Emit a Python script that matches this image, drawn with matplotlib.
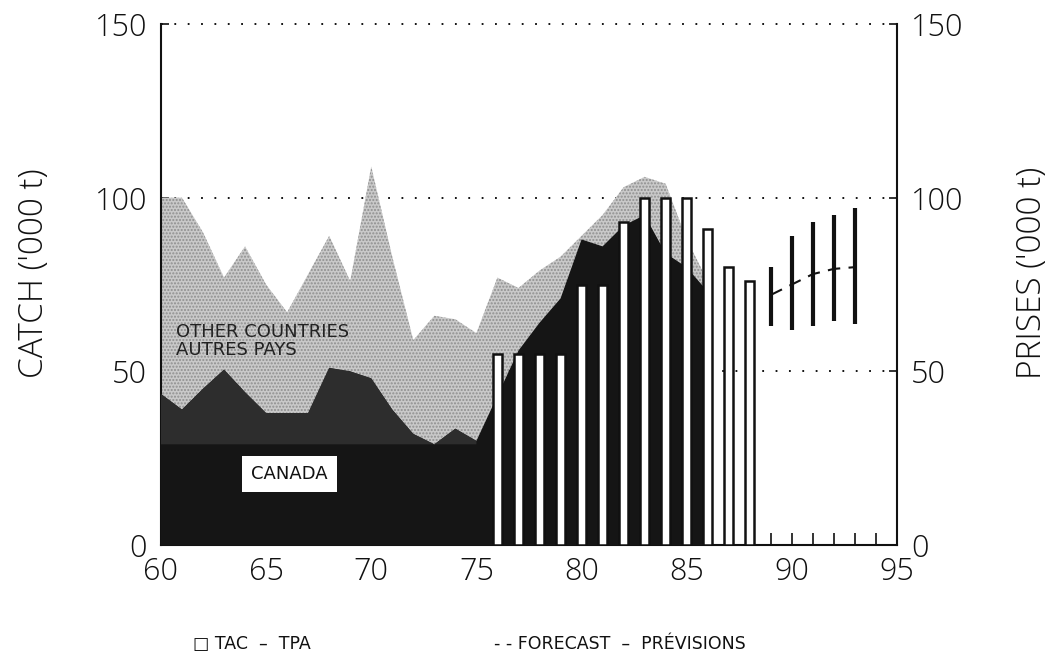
import numpy as np
import matplotlib
matplotlib.use('Agg')
import matplotlib.pyplot as plt


# Nominal catch ('000 t) by year, 1960-1986
years = np.arange(60, 87)
canada = [43.5, 39, 45, 50.5, 44, 38, 38, 38, 51, 50, 48, 39, 32, 29, 33.5, 30,
          43, 56, 64, 71, 88, 86, 92, 95, 84, 80, 73]
other_countries = [56.5, 61, 45, 26.5, 42, 37, 29, 40, 38, 26, 61, 44, 27, 37, 31.5, 31,
                   34, 18, 15, 12, 1, 9, 11, 11, 20, 8, 3]

# Total allowable catch (TAC / TPA)
tac_years = np.arange(76, 89)
tac = [55, 55, 55, 55, 75, 75, 93, 100, 100, 100, 91, 80, 76]

# Forecast ranges and central projection
fc_years = np.arange(89, 94)
fc_low = [63, 62, 63, 64.5, 63.5]
fc_high = [80, 89, 93, 95, 97]
fc_mid = [72, 75, 78, 79.5, 80]

BASE_LEVEL = 29  # lower dark block under the pre-1976 Canadian catch

AXIS_FONT = ['Open Sans', 'DejaVu Sans']
LABEL_FONT = ['DejaVu Sans']
plt.rcParams['font.family'] = AXIS_FONT
plt.rcParams['hatch.linewidth'] = 1.0

fig = plt.figure(figsize=(10.52, 6.58), dpi=100)
ax = fig.add_axes([0.153, 0.1717, 0.6996, 0.7918])

canada = np.array(canada, dtype=float)
total = canada + np.array(other_countries, dtype=float)

# dotted reference lines
for lvl in (50, 100, 150):
	ax.axhline(lvl, color='k', lw=1.3, linestyle=(0, (1, 6.4)), zorder=1, clip_on=False)

# other countries on top of Canada (stippled grey)
ax.fill_between(years, canada, total, facecolor='#c9c9c9', edgecolor='#8f8f8f',
	hatch='.....', linewidth=0, zorder=2)

# Canada
ax.fill_between(years, 0, canada, facecolor='#151515', linewidth=0, zorder=3)
early = years <= 75
ax.fill_between(years[early], BASE_LEVEL, canada[early], where=canada[early] > BASE_LEVEL,
	interpolate=True, facecolor='#2d2d2d', linewidth=0, zorder=3)

# TAC bars
ax.bar(tac_years, tac, width=0.42, facecolor='white', edgecolor='#111111',
	linewidth=1.8, zorder=4)

# forecast
ax.vlines(fc_years, fc_low, fc_high, color='#111111', lw=3, zorder=5)
ax.plot(fc_years, fc_mid, color='#111111', lw=1.5, linestyle=(0, (6, 4)), zorder=5)

# labels inside the plot
ax.text(60.7, 63.8, 'OTHER COUNTRIES\nAUTRES PAYS', fontsize=13, family=LABEL_FONT,
	ha='left', va='top', linespacing=0.95, color='#222222', zorder=6)
ax.text(66.1, 20.5, 'CANADA', fontsize=13, family=LABEL_FONT, ha='center', va='center',
	color='#111111', zorder=6,
	bbox=dict(boxstyle='square,pad=0.5', facecolor='white', edgecolor='none'))

ax.set_xlim(60, 95)
ax.set_ylim(0, 150)
ax.set_xticks(np.arange(60, 96, 5))
ax.set_xticks(np.arange(60, 96, 1), minor=True)
ax.set_yticks([0, 50, 100, 150])

for side in ('left', 'right', 'bottom'):
	ax.spines[side].set_linewidth(1.5)
	ax.spines[side].set_color('#111111')
ax.spines['top'].set_visible(False)

ax.tick_params(axis='x', which='both', direction='in', length=9, width=1.2,
	labelsize=22, pad=8, colors='#111111')
ax.tick_params(axis='y', direction='in', length=6, width=1.2, labelsize=22,
	left=True, right=True, labelleft=True, labelright=True, pad=10, colors='#111111')
for lab in ax.get_xticklabels() + ax.get_yticklabels():
	lab.set_fontweight('light')

fig.text(0.033, 0.585, "CATCH ('000 t)", rotation=90, fontsize=24, fontweight='light',
	ha='center', va='center', color='#111111')
fig.text(0.981, 0.585, "PRISES ('000 t)", rotation=90, fontsize=24, fontweight='light',
	ha='center', va='center', color='#111111')

fig.text(0.183, 0.022, '\u25a1 TAC  \u2013  TPA', fontsize=12.5, family=LABEL_FONT,
	ha='left', va='center', color='#111111')
fig.text(0.470, 0.022, '- - FORECAST  \u2013  PR\u00c9VISIONS', fontsize=12.5,
	family=LABEL_FONT, ha='left', va='center', color='#111111')

fig.savefig('out.png', dpi=100, facecolor='white')
